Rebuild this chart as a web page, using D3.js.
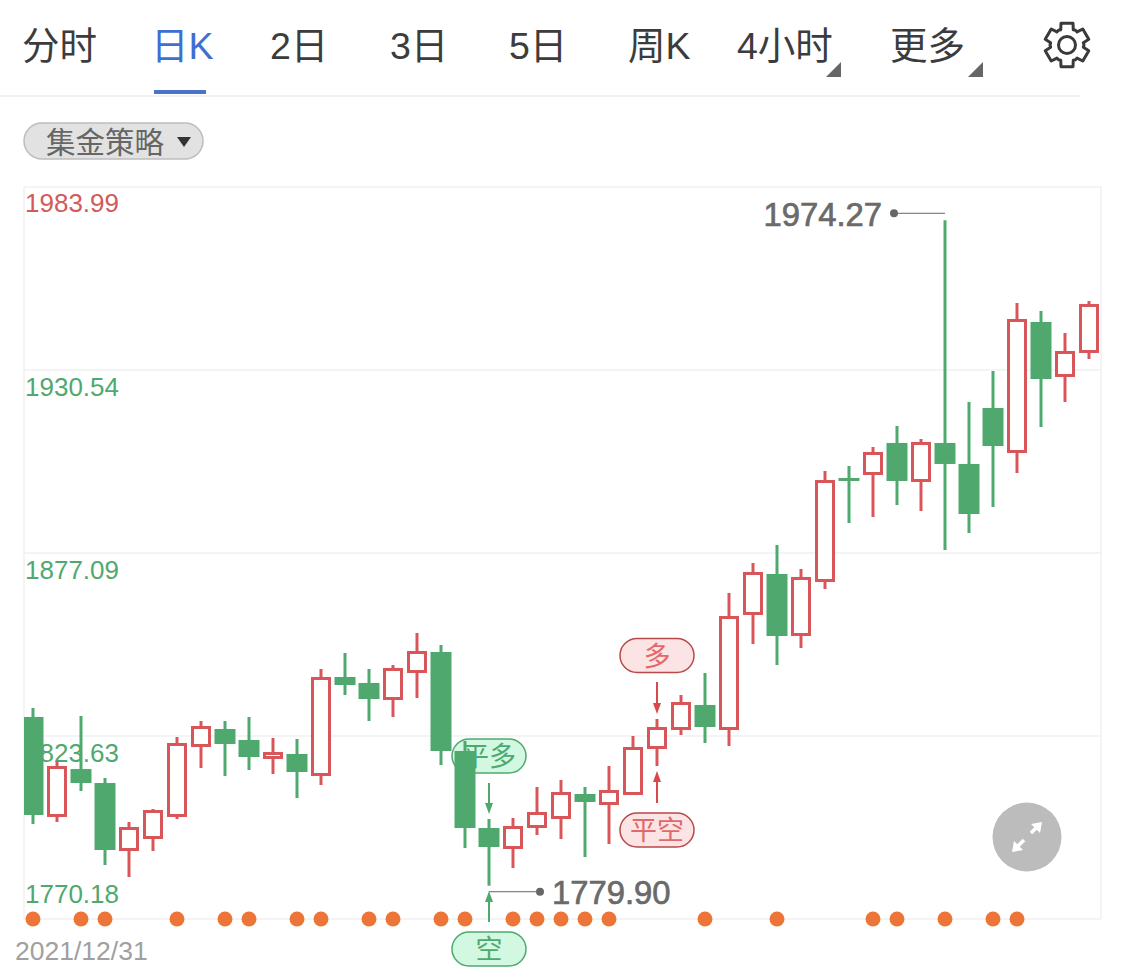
<!DOCTYPE html>
<html><head><meta charset="utf-8">
<script src="https://cdn.jsdelivr.net/npm/d3@7"></script>
<style>html,body{margin:0;padding:0;background:#fff}svg{display:block}
text{font-family:"Liberation Sans","Noto Sans CJK SC",sans-serif}</style>
</head><body><svg id="c" width="1125" height="980"></svg>
<script>
const opens=[1829.18,1800.27,1813.98,1809.9,1790.33,1793.84,1800.27,1820.71,1825.68,1822.47,1817.21,1818.38,1812.24,1840.87,1839.12,1834.44,1842.33,1848.17,1819.25,1796.76,1790.92,1797.05,1799.68,1806.69,1803.77,1806.69,1820.13,1825.68,1832.69,1825.68,1859.27,1870.95,1853.14,1868.91,1899.0,1900.16,1909.22,1898.12,1909.22,1903.09,1919.44,1906.59,1944.56,1928.79,1935.8];
const closes=[1800.56,1814.58,1809.9,1790.33,1796.76,1801.73,1821.3,1826.26,1821.3,1817.5,1818.67,1813.12,1840.58,1838.53,1834.44,1843.21,1848.17,1819.25,1796.76,1791.21,1797.05,1801.14,1806.98,1804.36,1807.57,1820.13,1825.97,1833.27,1826.26,1858.39,1871.25,1852.84,1869.79,1898.12,1898.12,1906.3,1898.12,1909.22,1903.09,1888.48,1908.34,1945.15,1927.91,1935.8,1949.53];
const highs=[1831.81,1816.33,1829.48,1811.37,1798.51,1802.31,1823.34,1828.02,1828.02,1829.18,1823.05,1822.76,1843.21,1847.88,1843.21,1844.37,1853.72,1850.22,1822.17,1799.39,1799.68,1808.74,1810.78,1808.74,1814.87,1823.63,1828.6,1835.61,1842.04,1865.4,1874.17,1879.43,1872.42,1901.04,1902.5,1908.05,1914.18,1910.39,1974.27,1921.2,1930.25,1950.11,1947.78,1941.35,1950.7];
const lows=[1797.93,1798.51,1807.57,1785.95,1782.45,1790.04,1799.39,1814.28,1811.95,1813.7,1812.53,1805.52,1809.32,1835.61,1828.02,1829.18,1834.73,1815.16,1790.92,1779.9,1785.08,1794.72,1793.55,1788.29,1792.09,1806.69,1814.87,1823.93,1821.59,1820.71,1850.51,1844.37,1849.34,1866.57,1885.85,1887.6,1891.11,1889.36,1877.96,1882.93,1890.53,1900.46,1913.89,1921.2,1933.76];
const signalDots=[0,2,3,6,8,9,11,12,14,15,17,18,20,21,22,23,24,28,31,35,36,38,40,41];
const priceTicks=[1983.99,1930.54,1877.09,1823.63,1770.18];
const tabLabels=["分时","日K","2日","3日","5日","周K","4小时","更多"];
const tabX=[22,151,270,390,509,628,737,890];
const dateLabel="2021/12/31";
const RED="#d8565a",GREEN="#4fa96e",GRID="#f1f1f1";

const svg=d3.select("#c");
const x=d3.scaleLinear().domain([0,44]).range([33,1089]);
const y=d3.scaleLinear().domain([1770.18,1983.99]).range([919,187]);
const L=24,R=1101;

// tabs
svg.selectAll("text.tab").data(tabLabels).join("text").attr("class","tab")
 .attr("x",(d,i)=>tabX[i]).attr("y",59).attr("font-size",37.5)
 .attr("fill",(d,i)=>i==1?"#3f6fd1":"#3c3c3c").text(d=>d);
svg.append("rect").attr("x",154).attr("y",90).attr("width",52).attr("height",4).attr("fill","#4a72c8");
svg.append("line").attr("x1",0).attr("x2",1080).attr("y1",96).attr("y2",96).attr("stroke",GRID).attr("stroke-width",2);
[[841,62],[983,62]].forEach(([a,b])=>svg.append("path").attr("d",`M${a} ${b}V${b+15}H${a-15}Z`).attr("fill","#666"));

// gear
const gearPts=[];
for(let k=0;k<6;k++){const a=-Math.PI/2+k*Math.PI/3,w=0.27;
 gearPts.push([a-w,22.5],[a+w,22.5],[a+w+0.12,16.5],[a+Math.PI/6,17],[a+Math.PI/3-w-0.12,16.5]);}
svg.append("path").attr("d",d3.line().x(p=>1067+p[1]*Math.cos(p[0])).y(p=>45+p[1]*Math.sin(p[0])).curve(d3.curveLinearClosed)(gearPts))
 .attr("fill","none").attr("stroke","#3a3a3a").attr("stroke-width",3).attr("stroke-linejoin","round");
svg.append("circle").attr("cx",1067).attr("cy",45).attr("r",8.5).attr("fill","none").attr("stroke","#3a3a3a").attr("stroke-width",3);

// strategy pill
svg.append("rect").attr("x",24).attr("y",123).attr("width",179).attr("height",36).attr("rx",18).attr("fill","#e2e2e2").attr("stroke","#bdbdbd").attr("stroke-width",1.5);
svg.append("text").attr("x",46).attr("y",153).attr("font-size",29.5).attr("fill","#666").text("集金策略");
svg.append("path").attr("d","M177 137H191L184 147Z").attr("fill","#333");

// frame + grid
svg.append("g").selectAll("line").data(priceTicks).join("line").attr("x1",L).attr("x2",R)
 .attr("y1",d=>y(d)).attr("y2",d=>y(d)).attr("stroke",GRID).attr("stroke-width",1.5);
[L,R].forEach(v=>svg.append("line").attr("x1",v).attr("x2",v).attr("y1",187).attr("y2",919).attr("stroke",GRID).attr("stroke-width",1.5));

// price labels
const labelBase=[212,396,579,762,903];
svg.selectAll("text.p").data(priceTicks).join("text").attr("class","p").attr("x",25)
 .attr("y",(d,i)=>labelBase[i]).attr("font-size",26).attr("fill",(d,i)=>i==0?"#d25a5a":GREEN).text(d=>d.toFixed(2));
svg.append("text").attr("x",15).attr("y",960).attr("font-size",26.5).attr("fill","#a0a0a0").text(dateLabel);

// signal badges (below candles)
function badge(cx,top,txt,up,a1,a2){
 const col=up?"#e0696b":GREEN;
 svg.append("rect").attr("x",cx-37).attr("y",top).attr("width",74).attr("height",34).attr("rx",17)
  .attr("fill",up?"#fbe4e3":"#d2f8e2").attr("stroke",up?"#b84a4a":GREEN).attr("stroke-width",1.5);
 svg.append("text").attr("x",cx).attr("y",top+27).attr("text-anchor","middle").attr("font-size",27).attr("fill",col).text(txt);
 const c=up?"#d9484b":GREEN, dir=a2>a1?1:-1;
 svg.append("line").attr("x1",cx).attr("x2",cx).attr("y1",a1).attr("y2",a2-dir*8).attr("stroke",c).attr("stroke-width",2);
 svg.append("path").attr("d",`M${cx} ${a2}L${cx-4} ${a2-dir*11}H${cx+4}Z`).attr("fill",c);
}
const I={short:19,long:26};
badge(x(I.long),638.5,"多",true,682,714);
badge(x(I.long),813,"平空",true,803,771);
badge(x(I.short),739,"平多",false,783,814);
badge(x(I.short),932,"空",false,922,891);

// candles
svg.append("clipPath").attr("id","pl").append("rect").attr("x",L).attr("y",180).attr("width",R-L).attr("height",750);
const g=svg.append("g").attr("clip-path","url(#pl)");
const W=20;
const cs=g.selectAll("g").data(opens.map((o,i)=>({i,o,c:closes[i],h:highs[i],l:lows[i]}))).join("g");
const isUp=d=>d.c>=d.o;
cs.append("line").attr("x1",d=>x(d.i)).attr("x2",d=>x(d.i)).attr("y1",d=>y(d.h)).attr("y2",d=>y(d.l))
 .attr("stroke",d=>isUp(d)?RED:GREEN).attr("stroke-width",3);
cs.append("rect")
 .attr("x",d=>x(d.i)-(isUp(d)?W/2-1.5:W/2+.5))
 .attr("width",d=>isUp(d)?W-3:W+1)
 .attr("y",d=>y(Math.max(d.o,d.c))+(isUp(d)?0.5:0))
 .attr("height",d=>Math.max(isUp(d)?1.5:3,Math.abs(y(d.o)-y(d.c))-(isUp(d)?1:0)))
 .attr("fill",d=>isUp(d)?"#fff":GREEN)
 .attr("stroke",d=>isUp(d)?RED:"none").attr("stroke-width",3);

// signal dots
svg.append("g").selectAll("circle").data(signalDots).join("circle").attr("cx",d=>x(d)).attr("cy",919).attr("r",7.5).attr("fill","#ed7537");

// high / low callouts
function callout(idx,val,lineEnd,side){
 const Y=val==d3.max(highs)?y(val)-7:y(val)+6, X=x(idx), dx=X+lineEnd;
 svg.append("line").attr("x1",X).attr("x2",dx).attr("y1",Y).attr("y2",Y).attr("stroke","#666").attr("stroke-width",1);
 svg.append("circle").attr("cx",dx).attr("cy",Y).attr("r",4).attr("fill","#666");
 svg.append("text").attr("x",dx+side*12).attr("y",Y+12.5).attr("text-anchor",side<0?"end":"start")
  .attr("font-size",32.8).attr("fill","#6a6a6a").attr("stroke","#6a6a6a").attr("stroke-width",.7).text(val.toFixed(2));
}
callout(38,d3.max(highs),-51,-1);
callout(19,d3.min(lows),51,1);

// expand button
svg.append("circle").attr("cx",1027).attr("cy",837).attr("r",34.5).attr("fill","#bcbcbc");
const ex=svg.append("g").attr("stroke","#fff").attr("stroke-width",3.5).attr("fill","none");
ex.append("line").attr("x1",1031).attr("y1",833).attr("x2",1038).attr("y2",826);
ex.append("line").attr("x1",1024).attr("y1",840).attr("x2",1017).attr("y2",847);
ex.append("path").attr("d","M1042 822L1040 833L1031 824Z").attr("fill","#fff").attr("stroke","none");
ex.append("path").attr("d","M1012 852L1014 841L1023 850Z").attr("fill","#fff").attr("stroke","none");
</script></body></html>
